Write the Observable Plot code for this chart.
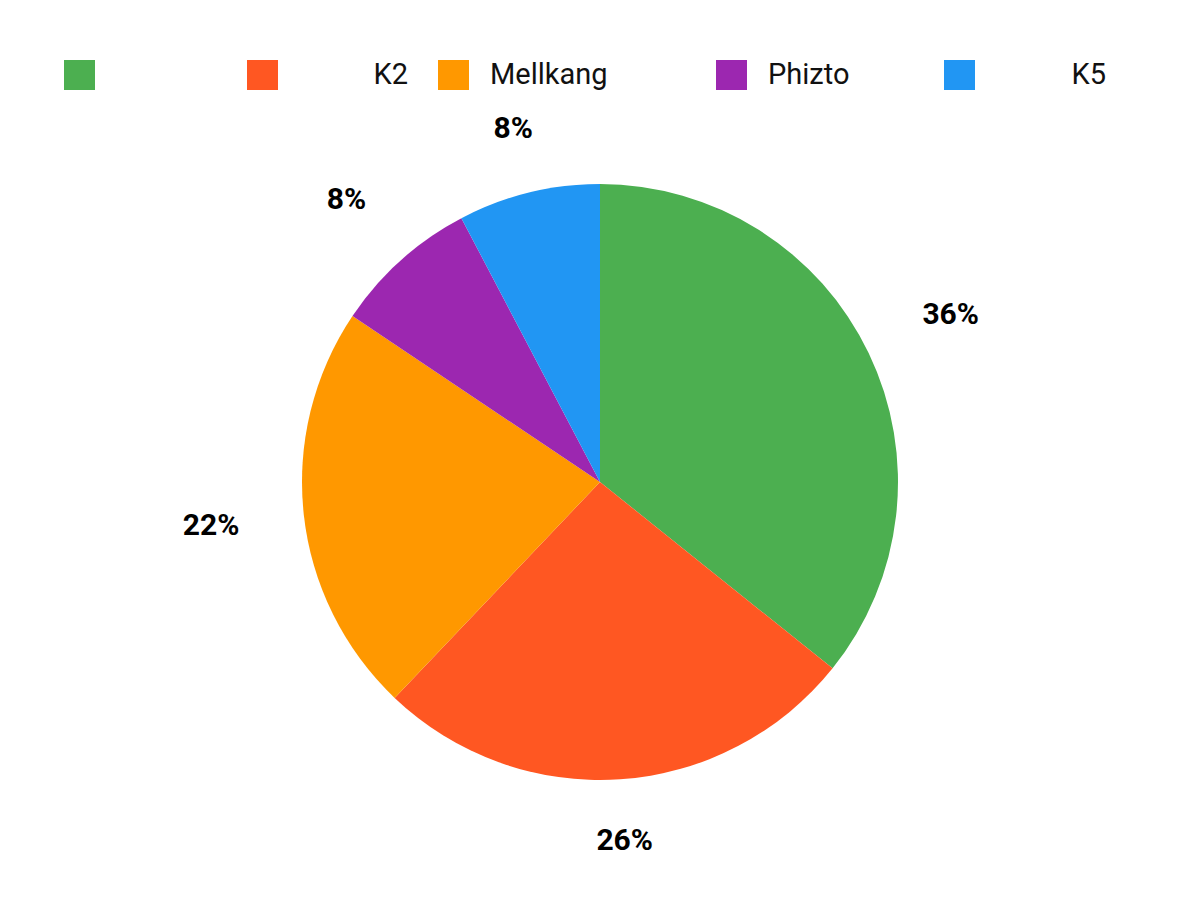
<!DOCTYPE html>
<html>
<head>
<meta charset="utf-8">
<script src="https://cdn.jsdelivr.net/npm/d3@7"></script>
<script src="https://cdn.jsdelivr.net/npm/@observablehq/plot@0.6"></script>
<style>
  body { margin: 0; background: #fff; font-family: Roboto, "Noto Sans", sans-serif; }
  #wrap { width: 1200px; }
  #legend { position: relative; width: 1200px; height: 100px; }
  .sw { position: absolute; top: 60px; width: 31px; height: 30px; }
  .lb { position: absolute; top: 59px; height: 30px; line-height: 30px; font-size: 29px; color: #111; white-space: pre; }
  #chart svg { display: block; }
</style>
</head>
<body>
<div id="wrap">
  <div id="legend"></div>
  <div id="chart"></div>
</div>
<script>
// ---- data ----
const categories = ["", "K2", "Mellkang", "Phizto", "K5"];
const values = [35.75, 26.35, 22.3, 7.9, 7.7];
const colors = ["#4CAF50", "#FF5722", "#FF9800", "#9C27B0", "#2196F3"];

// ---- layout ----
const W = 1200, H = 800;
const cx = 600, cy = 382;       // pie centre in SVG pixels
const R = 298;                  // outer radius
const legendLayout = [
  {sw: 64,  lbLeft: 105, lbRight: null},
  {sw: 247, lbLeft: null, lbRight: 408},
  {sw: 438, lbLeft: 490, lbRight: null},
  {sw: 716, lbLeft: 768, lbRight: null},
  {sw: 944, lbLeft: null, lbRight: 1106}
];

// legend
const legend = document.getElementById("legend");
categories.forEach((c, i) => {
  const L = legendLayout[i];
  const s = document.createElement("div");
  s.className = "sw";
  s.style.left = L.sw + "px";
  s.style.background = colors[i];
  legend.appendChild(s);
  const t = document.createElement("div");
  t.className = "lb";
  t.textContent = c;
  if (L.lbRight != null) { t.style.right = (W - L.lbRight) + "px"; t.style.textAlign = "right"; }
  else t.style.left = L.lbLeft + "px";
  legend.appendChild(t);
});

// pie geometry from data
const total = d3.sum(values);
const arcs = d3.pie().sort(null).value(d => d.value)(
  categories.map((c, i) => ({category: c, value: values[i], color: colors[i]}))
);
const slices = arcs.map(a => {
  const mid = (a.startAngle + a.endAngle) / 2;
  const rl = 356 + 36 * Math.abs(Math.sin(mid));
  return {
    ...a,
    mid,
    lx: Math.sin(mid) * rl,
    ly: -Math.cos(mid) * rl,
    label: Math.round(a.data.value / total * 100) + "%"
  };
});

const pieMark = Plot.dot(slices, {
  x: () => 0, y: () => 0,
  render: (index, scales) => {
    const g = d3.create("svg:g");
    const ox = scales.x(0), oy = scales.y(0);
    const rr = scales.x(R) - scales.x(0);
    const arcGen = d3.arc().innerRadius(0).outerRadius(rr);
    g.attr("transform", `translate(${ox},${oy})`);
    g.selectAll("path").data(Array.from(index, i => slices[i])).join("path")
      .attr("d", d => arcGen(d))
      .attr("fill", d => d.data.color);
    return g.node();
  }
});

const chart = Plot.plot({
  width: W, height: H,
  margin: 0,
  x: {domain: [-cx, W - cx], range: [0, W], axis: null},
  y: {domain: [-cy, H - cy], range: [0, H], axis: null},
  style: {fontFamily: "Roboto, sans-serif", background: "#fff"},
  marks: [
    pieMark,
    Plot.text(slices, {
      x: "lx", y: "ly", text: "label",
      fontSize: 30, fontWeight: "bold", fill: "#000"
    })
  ]
});
document.getElementById("chart").appendChild(chart);
</script>
</body>
</html>
